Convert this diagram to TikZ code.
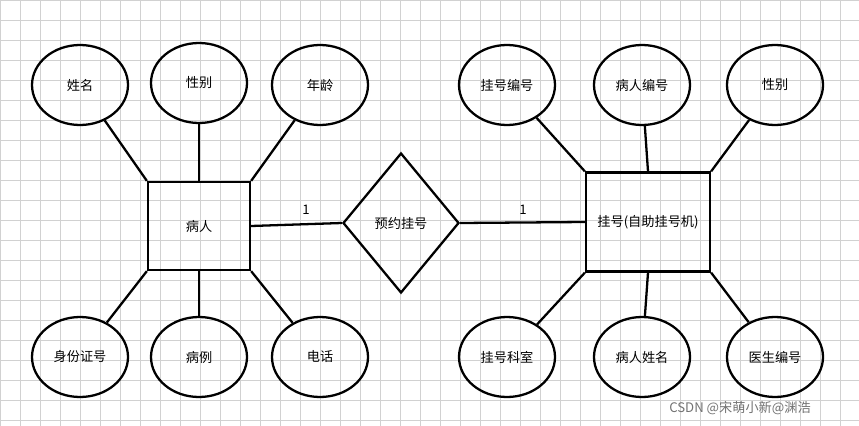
\documentclass[tikz,border=0pt]{standalone}
\usepackage{fontspec}
\newfontfamily\cjk{Noto Sans CJK SC}
\usetikzlibrary{shapes.geometric}
\begin{document}
\begin{tikzpicture}[x=0.02cm,y=-0.02cm,
  attr/.style={draw,line width=1.3pt,ellipse,minimum width=96*0.02cm,minimum height=80*0.02cm,font=\cjk\fontsize{7.5}{9}\selectfont},
  ent/.style={draw,line width=1.3pt,rectangle,font=\cjk\fontsize{7.5}{9}\selectfont},
  rel/.style={draw,line width=1.3pt,diamond,aspect=0.83,minimum width=116*0.02cm,minimum height=140*0.02cm,inner sep=0pt,font=\cjk\fontsize{7.5}{9}\selectfont},
  conn/.style={line width=1.3pt},
  lbl/.style={font=\cjk\fontsize{7.5}{9}\selectfont}]
\useasboundingbox (0,0) rectangle (859,426);
\fill[white] (0,0) rectangle (859,426);
\draw[black!18,line width=0.4pt,step=20*0.02cm] (0,0) grid (859,426);
\node[ent,minimum width=102*0.02cm,minimum height=88*0.02cm] (p) at (199,226) {病人};
\node[ent,minimum width=124*0.02cm,minimum height=99*0.02cm] (g) at (648,222) {挂号(自助挂号机)};
\node[rel] (r) at (401,223) {预约挂号};
\node[attr] (a1) at (80,85) {姓名};
\node[attr] (a2) at (199,83) {性别};
\node[attr] (a3) at (320,85) {年龄};
\node[attr] (a4) at (80,357) {身份证号};
\node[attr] (a5) at (199,357) {病例};
\node[attr] (a6) at (320,357) {电话};
\node[attr] (b1) at (507,85) {挂号编号};
\node[attr] (b2) at (642,85) {病人编号};
\node[attr] (b3) at (775,85) {性别};
\node[attr] (b4) at (507,357) {挂号科室};
\node[attr] (b5) at (642,357) {病人姓名};
\node[attr] (b6) at (775,357) {医生编号};
\draw[conn] (a1) -- (p.north west);
\draw[conn] (a2) -- (p.north);
\draw[conn] (a3) -- (p.north east);
\draw[conn] (a4) -- (p.south west);
\draw[conn] (a5) -- (p.south);
\draw[conn] (a6) -- (p.south east);
\draw[conn] (b1) -- (g.north west);
\draw[conn] (b2) -- (g.north);
\draw[conn] (b3) -- (g.north east);
\draw[conn] (b4) -- (g.south west);
\draw[conn] (b5) -- (g.south);
\draw[conn] (b6) -- (g.south east);
\draw[conn] (p.east) -- (r.west);
\draw[conn] (r.east) -- (g.west);
\node[lbl] (l1) at (306,210) {1};
\node[lbl] (l2) at (523,210) {1};
\node[font=\cjk\fontsize{7.5}{9}\selectfont,text=black!55] (wm) at (740,408) {CSDN @宋萌小新@渊浩};
\end{tikzpicture}
\end{document}
